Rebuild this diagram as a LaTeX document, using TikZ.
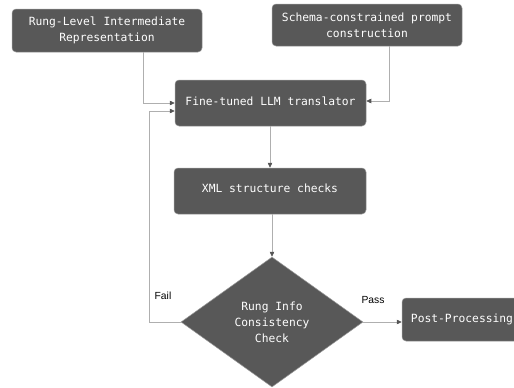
\documentclass[tikz,border=0pt]{standalone}
\usepackage{fontspec}
\setmainfont{Liberation Sans}
\newfontfamily\boxfont{DejaVu Sans Mono}
\usetikzlibrary{arrows.meta,shapes.geometric}
\definecolor{boxfill}{HTML}{585858}
\definecolor{boxline}{HTML}{9A9A9A}
\definecolor{connline}{HTML}{AFAFAF}
\definecolor{tipcol}{HTML}{555555}
\tikzset{
  procbox/.style={draw=boxline, line width=0.5pt, fill=boxfill, rounded corners=4pt,
    text=white, font=\boxfont\fontsize{11.3}{16}\selectfont, align=center, inner sep=0pt},
  decbox/.style={shape=diamond, draw=boxline, line width=0.5pt, fill=boxfill,
    text=white, font=\boxfont\fontsize{11.3}{16}\selectfont, align=center, inner sep=0pt,
    minimum width=182pt, minimum height=130pt},
  conn/.style={draw=connline, line width=0.7pt, -{Triangle[length=5pt,width=4.5pt,color=tipcol]}},
  lbl/.style={font=\fontsize{10.3}{12}\selectfont, text=black, inner sep=0pt}
}
\begin{document}
\begin{tikzpicture}[x=1pt,y=-1pt]
\useasboundingbox (0,0) rectangle (514,388);
\node[procbox, minimum width=190pt, minimum height=43pt] (b1) at (107,30.5) {Rung-Level Intermediate\\Representation};
\node[procbox, minimum width=190pt, minimum height=42pt] (b2) at (367,25) {Schema-constrained prompt\\construction};
\node[procbox, minimum width=191pt, minimum height=46pt] (b3) at (270.5,103) {\raisebox{4pt}{Fine-tuned LLM translator}};
\node[procbox, minimum width=192pt, minimum height=46pt] (b4) at (270,191) {\raisebox{5pt}{XML structure checks}};
\node[decbox] (dia) at (272,322) {Rung Info\\Consistency\\Check};
\node[procbox, minimum width=122pt, minimum height=43pt] (b5) at (463,319.5) {\hspace*{-2pt}Post-Processing};
\node[lbl] (fail) at (163,296) {Fail};
\node[lbl] (pass) at (373,300) {Pass};
\draw[conn] (b1.south -| 143,0) |- (b3.west |- 0,103);
\draw[conn] (b2.south -| 389,0) |- (b3.east |- 0,101);
\draw[conn] (b3.south -| 270,0) -- (b4.north -| 270,0);
\draw[conn] (b4.south -| dia.north) -- (dia.north);
\draw[conn] (dia.west) -- ++(-31,0) |- (b3.west |- 0,111);
\draw[conn] (dia.east) -- (b5.west |- dia.east);
\end{tikzpicture}
\end{document}
